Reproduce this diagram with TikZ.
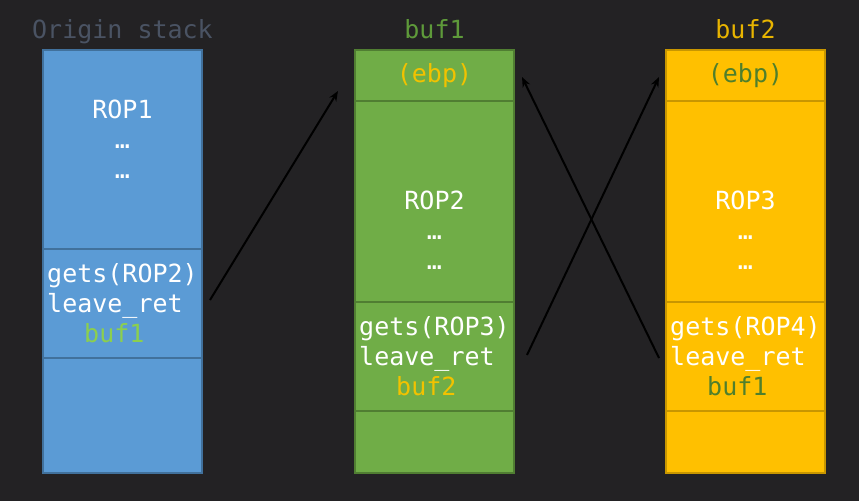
\documentclass[tikz,border=0pt]{standalone}
\usepackage{fontspec}
\setmonofont{DejaVu Sans Mono}
\usepackage{tikz}
\usetikzlibrary{positioning,arrows.meta}
\definecolor{bg}{HTML}{232224}
\definecolor{bluecell}{HTML}{5B9BD5}
\definecolor{blueedge}{HTML}{41719C}
\definecolor{greencell}{HTML}{70AD47}
\definecolor{greenedge}{HTML}{507E32}
\definecolor{yellowcell}{HTML}{FFC000}
\definecolor{yellowedge}{HTML}{C89600}
\definecolor{titlegrey}{HTML}{4A5363}
\definecolor{titlegreen}{HTML}{5E9A3A}
\definecolor{titleyellow}{HTML}{E8B400}
\definecolor{lightgreen}{HTML}{8CCF4E}
\definecolor{darkgreen}{HTML}{4F7F2C}
\definecolor{ebpyellow}{HTML}{F2C200}

\tikzset{
  cell/.style={rectangle, line width=1.5pt, minimum width=159pt, inner sep=0pt, outer sep=0pt},
  bluebox/.style={cell, fill=bluecell, draw=blueedge},
  greenbox/.style={cell, fill=greencell, draw=greenedge},
  yellowbox/.style={cell, fill=yellowcell, draw=yellowedge},
  stacktext/.style={font=\ttfamily\fontsize{25}{30}\selectfont, text=white, inner sep=0pt},
  title/.style={stacktext, anchor=base},
  jump/.style={draw=black, line width=2pt, -{Stealth[length=10pt,width=8pt]}}
}

\begin{document}
\begin{tikzpicture}[x=1pt,y=-1pt]
\fill[bg] (0,0) rectangle (859,501);
\useasboundingbox (0,0) rectangle (859,501);

% origin stack
\node[bluebox, minimum height=199pt, anchor=north west] (blue1) at (43,50) {};
\node[bluebox, minimum height=109pt, below=0pt of blue1] (blue2) {};
\node[bluebox, minimum height=115pt, below=0pt of blue2] (blue3) {};
\node[title, text=titlegrey] (orig) at ([yshift=12pt]blue1.north) {Origin stack};
\node[stacktext, align=center, below=50pt of blue1.north] (rop1) {ROP1\\…\\…};
\node[stacktext, align=left, anchor=west] (call1) at ([xshift=4pt]blue2.west)
  {gets(ROP2)\\leave\_ret\\\hspace*{37pt}\textcolor{lightgreen}{buf1}};

% buf1
\node[greenbox, minimum height=51pt, anchor=north west] (green1) at (355,50) {};
\node[greenbox, minimum height=201pt, below=0pt of green1] (green2) {};
\node[greenbox, minimum height=109pt, below=0pt of green2] (green3) {};
\node[greenbox, minimum height=62pt, below=0pt of green3] (green4) {};
\node[title, text=titlegreen] (buf1) at ([yshift=12pt]green1.north) {buf1};
\node[stacktext, text=ebpyellow] (ebp1) at (green1) {(ebp)};
\node[stacktext, align=center, below=90pt of green2.north] (rop2) {ROP2\\…\\…};
\node[stacktext, align=left, anchor=west] (call2) at ([xshift=4pt]green3.west)
  {gets(ROP3)\\leave\_ret\\\hspace*{37pt}\textcolor{ebpyellow}{buf2}};

% buf2
\node[yellowbox, minimum height=51pt, anchor=north west] (yellow1) at (666,50) {};
\node[yellowbox, minimum height=201pt, below=0pt of yellow1] (yellow2) {};
\node[yellowbox, minimum height=109pt, below=0pt of yellow2] (yellow3) {};
\node[yellowbox, minimum height=62pt, below=0pt of yellow3] (yellow4) {};
\node[title, text=titleyellow] (buf2) at ([yshift=12pt]yellow1.north) {buf2};
\node[stacktext, text=darkgreen] (ebp2) at (yellow1) {(ebp)};
\node[stacktext, align=center, below=90pt of yellow2.north] (rop3) {ROP3\\…\\…};
\node[stacktext, align=left, anchor=west] (call3) at ([xshift=4pt]yellow3.west)
  {gets(ROP4)\\leave\_ret\\\hspace*{37pt}\textcolor{darkgreen}{buf1}};

% jumps
\coordinate (j1s) at (210,300);
\coordinate (j1e) at (338,91);
\coordinate (j2s) at (527,355);
\coordinate (j2e) at (659,77);
\coordinate (j3s) at (659,358);
\coordinate (j3e) at (522,77);
\draw[jump] (j1s) -- (j1e);
\draw[jump] (j2s) -- (j2e);
\draw[jump] (j3s) -- (j3e);
\end{tikzpicture}
\end{document}
